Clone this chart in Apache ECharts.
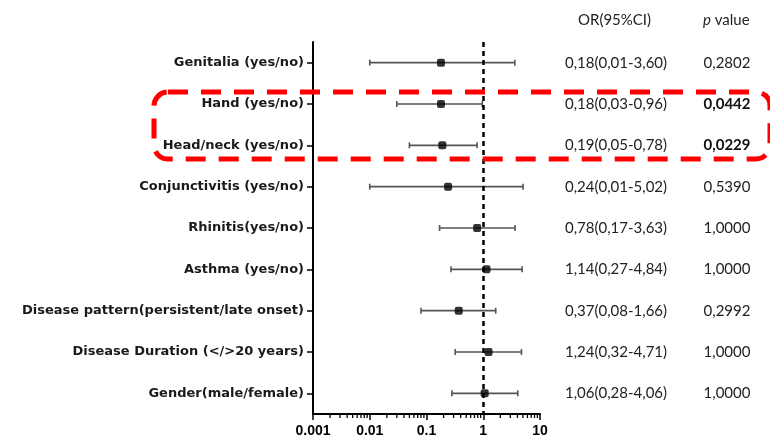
<!DOCTYPE html>
<html>
<head>
<meta charset="utf-8">
<script src="https://cdn.jsdelivr.net/npm/echarts@6/dist/echarts.min.js"></script>
<style>html,body{margin:0;padding:0;background:#fff}#main{width:770px;height:441px}</style>
</head>
<body>
<div id="main"></div>
<script>
var factors = [
  'Genitalia (yes/no)', 'Hand (yes/no)', 'Head/neck (yes/no)',
  'Conjunctivitis (yes/no)', 'Rhinitis(yes/no)', 'Asthma (yes/no)',
  'Disease pattern(persistent/late onset)', 'Disease Duration (</>20 years)',
  'Gender(male/female)'
];
var orValue = [0.18, 0.18, 0.19, 0.24, 0.78, 1.14, 0.37, 1.24, 1.06];
var ciLow   = [0.01, 0.03, 0.05, 0.01, 0.17, 0.27, 0.08, 0.32, 0.28];
var ciHigh  = [3.60, 0.96, 0.78, 5.02, 3.63, 4.84, 1.66, 4.71, 4.06];
var orText = ['0,18(0,01-3,60)', '0,18(0,03-0,96)', '0,19(0,05-0,78)', '0,24(0,01-5,02)',
  '0,78(0,17-3,63)', '1,14(0,27-4,84)', '0,37(0,08-1,66)', '1,24(0,32-4,71)', '1,06(0,28-4,06)'];
var pText = ['0,2802', '0,0442', '0,0229', '0,5390', '1,0000', '1,0000', '0,2992', '1,0000', '1,0000'];
var pBold = [false, true, true, false, false, false, false, false, false];
var decades = [0.001, 0.01, 0.1, 1];
var minorSteps = [2, 3, 4, 5, 6, 7, 8, 9];

var minorTicks = [];
decades.forEach(function(d) {
  minorSteps.forEach(function(k) { minorTicks.push([d * k, 0]); });
});

var pointData = orValue.map(function(v, i) { return [v, i]; });
var barData = ciLow.map(function(v, i) { return [v, ciHigh[i], i]; });

var myChart = echarts.init(document.getElementById('main'));
var tableFont = 'Lato';

var option = {
  animation: false,
  grid: { left: 313, right: 230, top: 42, bottom: 27 },
  xAxis: {
    type: 'log',
    logBase: 10,
    min: 0.001,
    max: 10,
    splitLine: { show: false },
    axisLine: { show: true, onZero: false, lineStyle: { color: '#000', width: 2 } },
    axisTick: { show: true, length: 6, lineStyle: { color: '#000', width: 1.5 } },
    axisLabel: {
      margin: 10,
      color: '#000',
      fontFamily: 'Liberation Sans',
      fontWeight: 'bold',
      fontSize: 14,
      formatter: function(v) { return String(+(+v).toPrecision(1)); }
    }
  },
  yAxis: [{
    type: 'category',
    inverse: true,
    data: factors,
    axisLine: { show: true, lineStyle: { color: '#000', width: 2 } },
    axisTick: { show: true, alignWithLabel: true, length: 6, lineStyle: { color: '#000', width: 1.5 } },
    axisLabel: {
      margin: 9,
      color: '#1a1a1a',
      fontFamily: 'DejaVu Sans',
      fontWeight: 'bold',
      fontSize: 13
    }
  }, {
    type: 'category',
    inverse: true,
    position: 'right',
    data: orText,
    axisLine: { show: false },
    axisTick: { show: false },
    axisLabel: {
      margin: 76,
      align: 'center',
      color: '#222',
      fontFamily: tableFont,
      fontSize: 15
    }
  }, {
    type: 'category',
    inverse: true,
    position: 'right',
    data: pText,
    axisLine: { show: false },
    axisTick: { show: false },
    axisLabel: {
      margin: 187,
      align: 'center',
      formatter: function(v, i) { return pBold[i] ? '{b|' + v + '}' : '{n|' + v + '}'; },
      rich: {
        n: { color: '#222', fontFamily: tableFont, fontSize: 15 },
        b: { color: '#111', fontFamily: tableFont, fontSize: 15, fontWeight: 'bold' }
      }
    }
  }],
  series: [{
    type: 'custom',
    name: 'minor',
    silent: true,
    clip: false,
    data: minorTicks,
    renderItem: function(params, api) {
      var p = api.coord([api.value(0), 0]);
      var y = params.coordSys.y + params.coordSys.height;
      return {
        type: 'line',
        shape: { x1: p[0], y1: y, x2: p[0], y2: y + 4 },
        style: { stroke: '#000', lineWidth: 1.3 }
      };
    }
  }, {
    type: 'custom',
    name: 'CI',
    data: barData,
    z: 3,
    renderItem: function(params, api) {
      var a = api.coord([api.value(0), api.value(2)]);
      var b = api.coord([api.value(1), api.value(2)]);
      var s = { stroke: '#555', lineWidth: 1.6 };
      return {
        type: 'group',
        children: [
          { type: 'line', shape: { x1: a[0], y1: a[1], x2: b[0], y2: b[1] }, style: s },
          { type: 'line', shape: { x1: a[0], y1: a[1] - 3, x2: a[0], y2: a[1] + 3 }, style: s },
          { type: 'line', shape: { x1: b[0], y1: b[1] - 3, x2: b[0], y2: b[1] + 3 }, style: s }
        ]
      };
    }
  }, {
    type: 'scatter',
    name: 'OR',
    data: pointData,
    z: 5,
    symbol: 'roundRect',
    symbolSize: 8,
    itemStyle: { color: '#000' },
    markLine: {
      silent: true,
      symbol: 'none',
      label: { show: false },
      lineStyle: { color: '#000', width: 2.5, type: [5, 4] },
      data: [{ xAxis: 1 }]
    }
  }],
  graphic: [{
    type: 'text',
    left: 578, top: 13,
    style: { text: 'OR(95%CI)', font: '15px Lato', fill: '#222' }
  }, {
    type: 'text',
    left: 703, top: 13,
    style: {
      text: '{i|p} value',
      rich: {
        i: { fontFamily: 'Lato', fontStyle: 'italic', fontSize: 15, fill: '#222' }
      },
      font: '15px Lato', fill: '#222'
    }
  }, {
    type: 'rect',
    z: 100,
    shape: { x: 154, y: 92, width: 616, height: 67, r: 14 },
    style: { fill: 'none', stroke: '#ff0000', lineWidth: 5, lineDash: [20, 13] }
  }]
};
myChart.setOption(option);
</script>
</body>
</html>
